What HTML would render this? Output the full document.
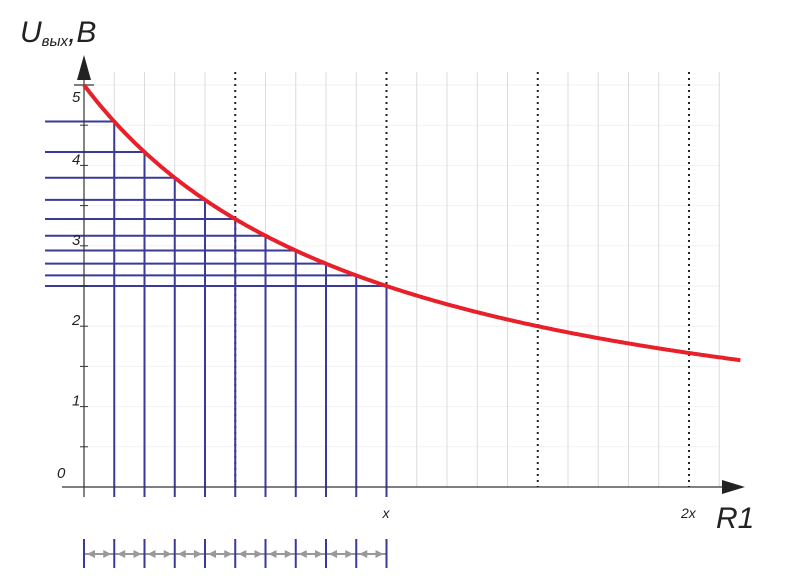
<!DOCTYPE html>
<html><head><meta charset="utf-8"><style>body{margin:0;background:#fff}svg{display:block}</style></head>
<body>
<svg id="c" width="800" height="588" xmlns="http://www.w3.org/2000/svg" font-family="Liberation Sans, DejaVu Sans, sans-serif">
<g id="grid"></g>
<g id="blue"></g>
<g id="axes">
<line x1="62" y1="487" x2="728" y2="487" stroke="#333" stroke-width="1.2"/>
<polygon points="745,487 722,480 722,494" fill="#222"/>
<line x1="84" y1="497" x2="84" y2="75" stroke="#333" stroke-width="1.2"/>
<polygon points="84,55 77,80 91,80" fill="#222"/>
</g>
<g id="labels" font-style="italic" fill="#222"></g>
<path id="curve" fill="none" stroke="#e8202a" stroke-width="4"/>
<g id="bottom"></g>
<text x="20" y="42" font-size="30" font-style="italic" fill="#222">U<tspan font-size="15" dy="4">вых</tspan><tspan dy="-4">,B</tspan></text>
<text x="716" y="528" font-size="30" font-style="italic" fill="#222">R1</text>
</svg>
<script>
const yTicks=[0,1,2,3,4,5];
const xLabels=[{k:10,t:"x"},{k:20,t:"2x"}];
const stepCount=[1,2,3,4,5,6,7,8,9,10];
const E=5;
const x0=84,y0=487,dx=30.25,vy=80.4;
const X=r=>x0+r*dx, Y=v=>y0-v*vy;
const V=r=>E/(1+r/10);
const ns="http://www.w3.org/2000/svg";
function mk(p,t,a){const e=document.createElementNS(ns,t);for(const k in a)e.setAttribute(k,a[k]);p.appendChild(e);return e;}
const grid=document.getElementById('grid');
for(let v=0.5;v<=5;v+=0.5){const l=mk(grid,'line',{x1:x0,x2:720,y1:Y(v),y2:Y(v),stroke:'#f2f2f2','stroke-width':1});

}
for(let k=1;k<=21;k++){const dot=k%5==0;const l=mk(grid,'line',{x1:X(k),x2:X(k),y1:72,y2:y0,stroke:dot?'#222':'#dcdcdc','stroke-width':dot?2:1,'stroke-dasharray':dot?'2,4':'none'});

}
const lab=document.getElementById('labels');
yTicks.forEach(v=>{const t=mk(lab,'text',{x:v==0?57:72,y:v==5?Y(v)+17:(v==0?Y(v)-9:Y(v)-1),'font-size':15});t.textContent=v;

});
for(let v=0.5;v<=5;v+=0.5){const l=mk(lab,'line',{x1:x0-4,x2:x0+4,y1:Y(v),y2:Y(v),stroke:'#333'});

}
mk(lab,'line',{x1:x0-10,x2:x0+10,y1:Y(5),y2:Y(5),stroke:'#555','stroke-width':1.5});
xLabels.forEach(o=>{const t=mk(lab,'text',{x:X(o.k)-(o.t.length>1?8:4),y:518,'font-size':14});t.textContent=o.t;

});
const blue=document.getElementById('blue');
stepCount.forEach(k=>{const y=Y(V(k));
const h=mk(blue,'line',{x1:45,x2:X(k),y1:y,y2:y,stroke:'#3a3a9a','stroke-width':2});


const v=mk(blue,'line',{x1:X(k),x2:X(k),y1:y,y2:497,stroke:'#3a3a9a','stroke-width':2});

});
let d='';for(let r=0;r<=21.75;r+=0.05){d+=(r?'L':'M')+X(r).toFixed(1)+','+Y(V(r)).toFixed(1);}
document.getElementById('curve').setAttribute('d',d);
const b=document.getElementById('bottom');
mk(b,'line',{x1:x0,x2:X(10),y1:554,y2:554,stroke:'#999','stroke-width':2});
for(let k=0;k<=10;k++){const l=mk(b,'line',{x1:X(k),x2:X(k),y1:539,y2:568,stroke:'#3a3a9a','stroke-width':2});


if(k<10){const a=X(k)+3,c=X(k+1)-3;
mk(b,'polygon',{points:`${a},554 ${a+8},550 ${a+8},558`,fill:'#999'});
mk(b,'polygon',{points:`${c},554 ${c-8},550 ${c-8},558`,fill:'#999'});}}
</script>
</body></html>
